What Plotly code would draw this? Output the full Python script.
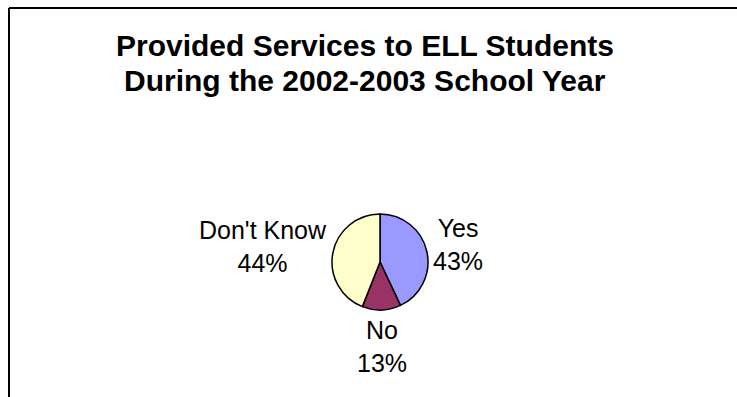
import math
import plotly.graph_objects as go

labels = ["Yes", "No", "Don't Know"]
values = [43, 13, 44]
colors = ["#9999FF", "#993366", "#FFFFCC"]
title_lines = ["Provided Services to ELL Students", "During the 2002-2003 School Year"]

W, H = 737, 397
FONT = "Liberation Sans, Arial, sans-serif"

# pie geometry (pixels)
CX, CY, R = 380, 262, 48
LABEL_GAP = 4
LABEL_SIZE = 25

fig = go.Figure(go.Pie(
    labels=labels,
    values=values,
    marker=dict(colors=colors, line=dict(color="black", width=1.5)),
    sort=False,
    direction="clockwise",
    rotation=0,
    textinfo="none",
    showlegend=False,
    automargin=False,
    hoverinfo="label+percent",
    domain=dict(x=[(CX - 2 * R) / W, (CX + 2 * R) / W],
                y=[1 - (CY + R) / H, 1 - (CY - R) / H]),
))

# data labels placed outside each slice at its mid-angle
total = sum(values)
annotations = []
cum = 0
for lab, v in zip(labels, values):
    mid = (cum + v / 2) / total * 2 * math.pi
    cum += v
    dx, dy = math.sin(mid), -math.cos(mid)
    px = CX + (R + LABEL_GAP) * dx
    py = CY + (R + LABEL_GAP) * dy
    if dx > 0.4:
        xa, ya, py = "left", "middle", py - 6
    elif dx < -0.4:
        xa, ya, py = "right", "middle", py - 6
    else:
        xa, ya = "center", "top"
    pct = round(100 * v / total)
    annotations.append(dict(
        text=f"{lab}<br>{pct}%", x=px / W, y=1 - py / H,
        xref="paper", yref="paper", xanchor=xa, yanchor=ya,
        showarrow=False, align="center",
        font=dict(family=FONT, size=LABEL_SIZE, color="black"),
    ))

title_y = [45, 81]
for line, yy in zip(title_lines, title_y):
    annotations.append(dict(
        text="<b>" + line + "</b>",
        x=365 / W, y=1 - yy / H, xref="paper", yref="paper",
        xanchor="center", yanchor="middle", showarrow=False,
        font=dict(family=FONT, size=30, color="black"),
    ))

fig.update_layout(
    width=W, height=H,
    margin=dict(l=0, r=0, t=0, b=0, autoexpand=False),
    paper_bgcolor="white",
    plot_bgcolor="white",
    annotations=annotations,
    shapes=[
        dict(type="line", xref="paper", yref="paper",
             x0=9 / W, x1=1.05, y0=1 - 8 / H, y1=1 - 8 / H,
             line=dict(color="black", width=2)),
        dict(type="line", xref="paper", yref="paper",
             x0=9 / W, x1=9 / W, y0=1 - 8 / H, y1=-0.05,
             line=dict(color="black", width=2)),
    ],
)

fig.write_html("out.html")
